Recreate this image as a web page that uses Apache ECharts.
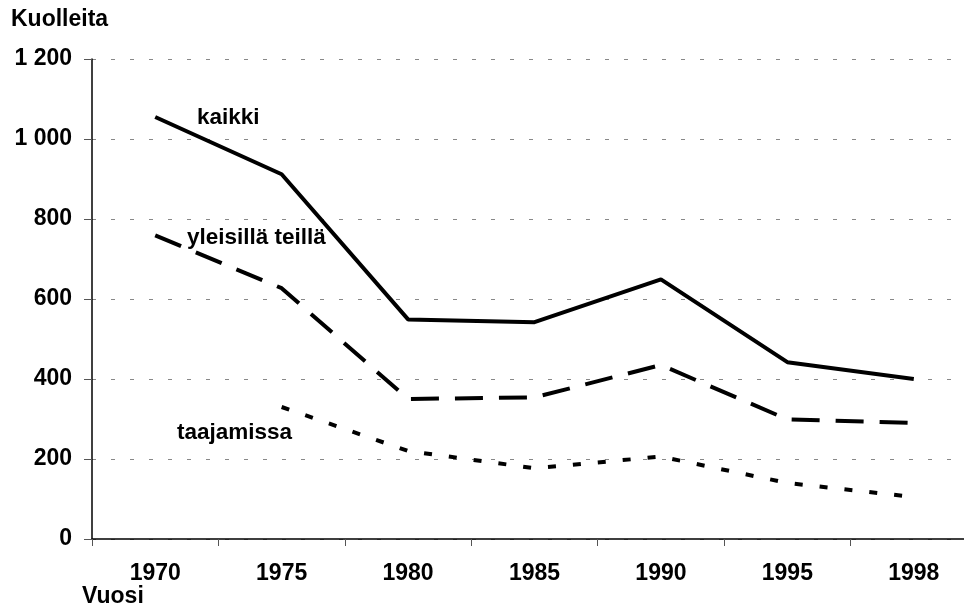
<!DOCTYPE html>
<html>
<head>
<meta charset="utf-8">
<script src="https://cdn.jsdelivr.net/npm/echarts@6/dist/echarts.min.js"></script>
<style>
  html, body { margin: 0; padding: 0; background: #fff; }
  #chart { width: 964px; height: 608px; }
</style>
</head>
<body>
<div id="chart"></div>
<script>
// Kuolleet tieliikenteessä
const years = ['1970', '1975', '1980', '1985', '1990', '1995', '1998'];
const kaikki = [1055, 912, 549, 542, 649, 442, 400];
const yleisillaTeilla = [759, 627, 350, 354, 435, 299, 290];
const taajamissa = [null, 330, 220, 177, 206, 140, 105];

const FONT = '"Liberation Sans", Arial, sans-serif';

function formatThousands(v) {
    return String(v).replace(/\B(?=(\d{3})+(?!\d))/g, ' ');
}

const chart = echarts.init(document.getElementById('chart'));

const option = {
    animation: false,
    grid: {
        left: 92,
        width: 885,
        top: 59,
        bottom: 69,
        outerBoundsMode: 'none',
        containLabel: false,
    },
    xAxis: {
        type: 'category',
        data: years,
        boundaryGap: true,
        axisLine: { lineStyle: { color: '#000', width: 1.5 } },
        axisTick: { show: true, length: 7, lineStyle: { color: '#555', width: 1 } },
        axisLabel: {
            color: '#000',
            fontFamily: FONT,
            fontWeight: 'bold',
            fontSize: 23,
            margin: 23,
        },
        splitLine: { show: false },
    },
    yAxis: {
        type: 'value',
        min: 0,
        max: 1200,
        interval: 200,
        axisLine: { show: true, lineStyle: { color: '#000', width: 1.5 } },
        axisTick: { show: true, length: 8, lineStyle: { color: '#555', width: 1 } },
        axisLabel: {
            color: '#000',
            fontFamily: FONT,
            fontWeight: 'bold',
            fontSize: 23,
            margin: 20,
            formatter: formatThousands,
        },
        splitLine: {
            show: true,
            lineStyle: { color: '#888', width: 1, type: [4, 15] },
        },
    },
    series: [
        {
            name: 'kaikki',
            type: 'line',
            data: kaikki,
            symbol: 'none',
            lineStyle: { color: '#000', width: 4 },
        },
        {
            name: 'yleisillä teillä',
            type: 'line',
            data: yleisillaTeilla,
            symbol: 'none',
            lineStyle: { color: '#000', width: 4, type: [28, 16] },
        },
        {
            name: 'taajamissa',
            type: 'line',
            data: taajamissa,
            symbol: 'none',
            connectNulls: false,
            lineStyle: { color: '#000', width: 4, type: [8, 17] },
        },
    ],
    graphic: [
        {
            type: 'text', left: 11, top: 8,
            style: { text: 'Kuolleita', font: 'bold 23px ' + FONT, fill: '#000' },
        },
        {
            type: 'text', left: 82, top: 585,
            style: { text: 'Vuosi', font: 'bold 23px ' + FONT, fill: '#000' },
        },
        {
            type: 'text', left: 197, top: 106,
            style: { text: 'kaikki', font: 'bold 22.5px ' + FONT, fill: '#000' },
        },
        {
            type: 'text', left: 187, top: 226,
            style: { text: 'yleisillä teillä', font: 'bold 22.5px ' + FONT, fill: '#000' },
        },
        {
            type: 'text', left: 177, top: 421,
            style: { text: 'taajamissa', font: 'bold 22.5px ' + FONT, fill: '#000' },
        },
    ],
};

chart.setOption(option);
</script>
</body>
</html>
